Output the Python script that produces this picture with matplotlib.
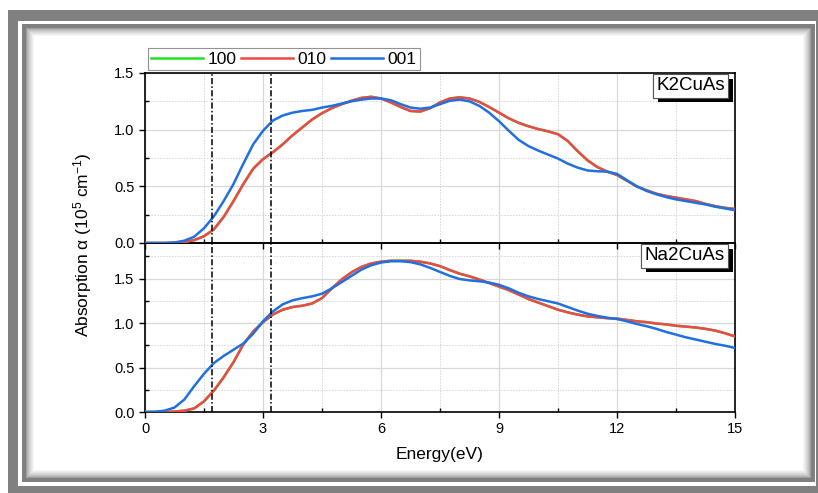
import matplotlib
matplotlib.use("Agg")
import matplotlib.pyplot as plt
import matplotlib.patheffects as pe
from matplotlib.patches import Rectangle
from matplotlib.ticker import MultipleLocator, FormatStrFormatter

plt.rcParams['font.family'] = ['Liberation Sans', 'DejaVu Sans']
plt.rcParams['mathtext.default'] = 'regular'

# ---------------- data ----------------
energy = [0.0, 0.25, 0.5, 0.75, 1.0, 1.25, 1.5, 1.75, 2.0, 2.25, 2.5, 2.75, 3.0, 3.25, 3.5, 3.75,
          4.0, 4.25, 4.5, 4.75, 5.0, 5.25, 5.5, 5.75, 6.0, 6.25, 6.5, 6.75, 7.0, 7.25, 7.5, 7.75,
          8.0, 8.25, 8.5, 8.75, 9.0, 9.25, 9.5, 9.75, 10.0, 10.25, 10.5, 10.75, 11.0, 11.25, 11.5,
          11.75, 12.0, 12.25, 12.5, 12.75, 13.0, 13.25, 13.5, 13.75, 14.0, 14.25, 14.5, 14.75, 15.0]

k2_010 = [0, 0, 0, 0.002, 0.01, 0.025, 0.06, 0.12, 0.23, 0.37, 0.52, 0.655, 0.74, 0.80, 0.87, 0.95,
          1.02, 1.09, 1.145, 1.19, 1.225, 1.255, 1.28, 1.29, 1.275, 1.24, 1.20, 1.165, 1.16, 1.19,
          1.24, 1.275, 1.285, 1.275, 1.245, 1.20, 1.15, 1.10, 1.06, 1.03, 1.005, 0.985, 0.96, 0.90,
          0.81, 0.73, 0.67, 0.63, 0.60, 0.55, 0.50, 0.465, 0.435, 0.415, 0.40, 0.385, 0.37, 0.345,
          0.325, 0.31, 0.30]
k2_001 = [0, 0, 0, 0.005, 0.02, 0.055, 0.13, 0.235, 0.37, 0.52, 0.70, 0.87, 0.99, 1.08, 1.125, 1.15,
          1.165, 1.175, 1.195, 1.21, 1.23, 1.25, 1.265, 1.275, 1.275, 1.26, 1.225, 1.195, 1.185,
          1.195, 1.225, 1.255, 1.265, 1.25, 1.21, 1.15, 1.075, 0.99, 0.91, 0.855, 0.815, 0.78, 0.745,
          0.70, 0.665, 0.64, 0.633, 0.63, 0.61, 0.555, 0.50, 0.46, 0.43, 0.405, 0.385, 0.37, 0.355,
          0.34, 0.32, 0.305, 0.29]
k2_100 = list(k2_010)

na2_010 = [0, 0, 0, 0.005, 0.015, 0.04, 0.12, 0.24, 0.39, 0.56, 0.76, 0.905, 1.01, 1.095, 1.15, 1.18,
           1.195, 1.22, 1.28, 1.39, 1.49, 1.57, 1.63, 1.67, 1.69, 1.70, 1.70, 1.70, 1.69, 1.67, 1.64,
           1.595, 1.555, 1.525, 1.49, 1.45, 1.41, 1.37, 1.32, 1.27, 1.23, 1.19, 1.15, 1.12, 1.095,
           1.075, 1.065, 1.055, 1.05, 1.035, 1.02, 1.01, 0.995, 0.985, 0.97, 0.96, 0.95, 0.935, 0.915,
           0.885, 0.85]
na2_001 = [0, 0.002, 0.015, 0.05, 0.14, 0.29, 0.43, 0.55, 0.63, 0.70, 0.77, 0.88, 1.02, 1.13, 1.21,
           1.255, 1.28, 1.30, 1.33, 1.39, 1.46, 1.53, 1.60, 1.65, 1.68, 1.695, 1.695, 1.685, 1.66,
           1.62, 1.575, 1.53, 1.495, 1.48, 1.47, 1.455, 1.43, 1.39, 1.34, 1.30, 1.27, 1.245, 1.22,
           1.18, 1.14, 1.105, 1.08, 1.06, 1.045, 1.02, 0.99, 0.965, 0.935, 0.90, 0.87, 0.84, 0.815,
           0.79, 0.765, 0.745, 0.72]
na2_100 = list(na2_010)

series_labels = ['100', '010', '001']
panel_labels = ['K2CuAs', 'Na2CuAs']
marker_energies = [1.7, 3.2]

colors = ['#22e022', '#f04848', '#2070e0']

W, H = 818, 493
fig = plt.figure(figsize=(W / 100, H / 100), dpi=100)


def fx(x):
    return x / W


def fy(y):
    return 1 - y / H


# ---------------- decorative frame ----------------
gray = '#808080'
fig.patches.append(Rectangle((fx(8), fy(493)), fx(818) - fx(8), fy(10) - fy(493),
                             transform=fig.transFigure, facecolor=gray, edgecolor='none',
                             zorder=-10))
fig.patches.append(Rectangle((fx(18), fy(486)), fx(816) - fx(18), fy(21) - fy(486),
                             transform=fig.transFigure, facecolor='white', edgecolor='none',
                             zorder=-9))
fig.patches.append(Rectangle((fx(22), fy(482)), fx(815) - fx(22), fy(24) - fy(482),
                             transform=fig.transFigure, facecolor=gray, edgecolor='none',
                             zorder=-8))
for i in range(9):
    c = 0.62 + 0.38 * (i / 8.0) ** 0.7
    fig.patches.append(Rectangle((fx(26 + i), fy(478 - i)), fx(811 - i) - fx(26 + i),
                                 fy(28 + i) - fy(478 - i),
                                 transform=fig.transFigure, facecolor=(c, c, c),
                                 edgecolor='none', zorder=-7 + i * 0.1))

# ---------------- axes ----------------
left, right = fx(145), fx(735)
ax1 = fig.add_axes([left, fy(243), right - left, fy(73) - fy(243)], zorder=2)
ax2 = fig.add_axes([left, fy(412), right - left, fy(243) - fy(412)], sharex=ax1, zorder=1)

datasets = [(ax1, [k2_100, k2_010, k2_001], 1.5, panel_labels[0]),
            (ax2, [na2_100, na2_010, na2_001], 1.9, panel_labels[1])]

handles = []
for ax, ys, ytop, plabel in datasets:
    ax.set_facecolor('none')
    for yv, col, lab in zip(ys, colors, series_labels):
        h, = ax.plot(energy, yv, color=col, lw=1.8, label=lab, zorder=3)
        if ax is ax1:
            handles.append(h)
    ax.set_xlim(0, 15)
    ax.set_ylim(0, ytop)
    ax.xaxis.set_major_locator(MultipleLocator(3))
    ax.xaxis.set_minor_locator(MultipleLocator(1.5))
    ax.yaxis.set_major_locator(MultipleLocator(0.5))
    ax.yaxis.set_minor_locator(MultipleLocator(0.25))
    ax.yaxis.set_major_formatter(FormatStrFormatter('%.1f'))
    ax.grid(which='major', color='#d8d8d8', lw=0.9, ls='-', zorder=0)
    ax.grid(which='minor', color='#d4d4d4', lw=0.7, ls=(0, (1.5, 1.5)), zorder=0)
    ax.tick_params(which='major', direction='out', length=4, width=1, labelsize=10.5,
                   colors='black')
    ax.tick_params(which='minor', direction='in', length=3, width=1)
    for s in ax.spines.values():
        s.set_linewidth(1.2)
    for xe in marker_energies:
        ax.axvline(xe, color='black', lw=1.1, ls=(0, (4, 1.5, 1, 1.5)), zorder=4)
    t = ax.text(0.983, 0.975, plabel, transform=ax.transAxes, ha='right', va='top',
                fontsize=13.5, zorder=6,
                bbox=dict(boxstyle='square,pad=0.18', facecolor='white', edgecolor='#555555',
                          lw=0.8))
    t.get_bbox_patch().set_path_effects([
        pe.withSimplePatchShadow(offset=(3.5, -3.5), shadow_rgbFace='black', alpha=1.0),
        pe.Normal()])

ax1.tick_params(axis='x', labelbottom=False)

leg = ax1.legend(handles=handles, loc='lower left', bbox_to_anchor=(0.0, 1.0), ncol=3,
                 frameon=True, fancybox=False, fontsize=12.5, handlelength=3.0,
                 handletextpad=0.25, columnspacing=0.25, borderpad=0.2, borderaxespad=0.15)
leg.get_frame().set_edgecolor('#777777')
leg.get_frame().set_linewidth(0.8)

fig.text(fx(440), fy(455), 'Energy(eV)', ha='center', va='center', fontsize=12.5)
fig.text(fx(83), fy(245), 'Absorption α (10$^{5}$ cm$^{-1}$)', ha='center', va='center',
         rotation=90, fontsize=12.5)

fig.savefig('out.png', dpi=100)
